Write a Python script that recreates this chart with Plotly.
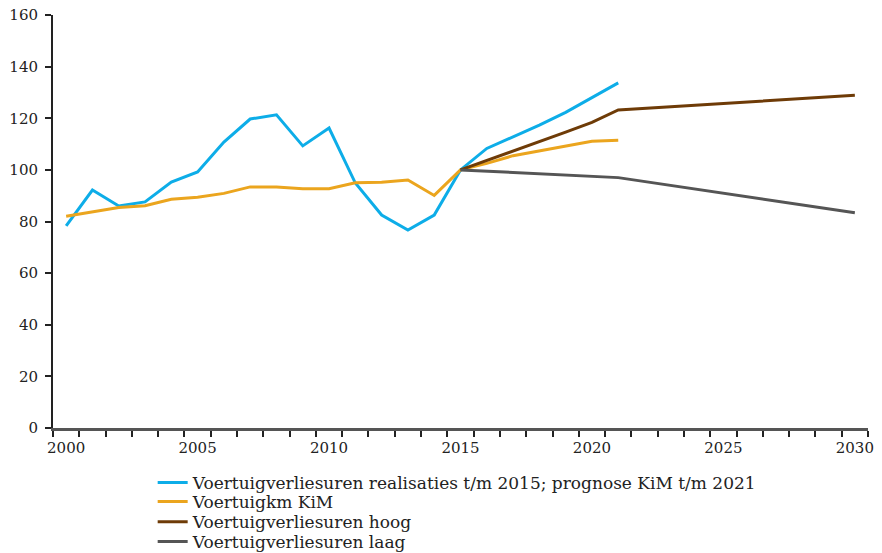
import plotly.graph_objects as go

years_hist = list(range(2000, 2022))
blue_vals = [78.3, 92.2, 86.0, 87.6, 95.3, 99.2, 110.8, 119.7, 121.3, 109.3, 116.2,
             94.9, 82.5, 76.7, 82.5, 100.0, 108.3, 112.7, 117.3, 122.3, 127.9, 133.7]
yellow_vals = [82.0, 83.7, 85.4, 86.1, 88.6, 89.4, 90.9, 93.4, 93.4, 92.7, 92.7,
               95.0, 95.2, 96.1, 90.1, 100.0, 102.5, 105.5, 107.3, 109.3, 111.1, 111.5]
hoog_years = [2015, 2016, 2017, 2018, 2019, 2020, 2021, 2030]
hoog_vals = [100.0, 103.6, 107.2, 110.9, 114.6, 118.4, 123.2, 128.9]
laag_years = [2015, 2021, 2030]
laag_vals = [100.0, 97.0, 83.4]

names = ["Voertuigverliesuren realisaties t/m 2015; prognose KiM t/m 2021",
         "Voertuigkm KiM",
         "Voertuigverliesuren hoog",
         "Voertuigverliesuren laag"]
colors = ["#0DADE8", "#EBA51E", "#6E3B07", "#555555"]

x_ticks = [2000, 2005, 2010, 2015, 2020, 2025, 2030]
y_ticks = [0, 20, 40, 60, 80, 100, 120, 140, 160]

font = "DejaVu Serif"
legend_ids = ["legend", "legend2", "legend3", "legend4"]
legend_y = [-0.133, -0.179, -0.228, -0.276]

fig = go.Figure()
series = [(years_hist, blue_vals), (years_hist, yellow_vals),
          (hoog_years, hoog_vals), (laag_years, laag_vals)]
for (xs, ys), n, c, lid in zip(series, names, colors, legend_ids):
    fig.add_trace(go.Scatter(x=xs, y=ys, mode="lines", name=n, legend=lid,
                             line=dict(color=c, width=3)))

legend_layout = {}
for lid, ly in zip(legend_ids, legend_y):
    legend_layout[lid] = dict(x=0.1223, xanchor="left", y=ly, yanchor="middle",
                              font=dict(family=font, size=17, color="#222222"),
                              itemwidth=30, bgcolor="rgba(0,0,0,0)")

fig.update_layout(
    width=882, height=553,
    margin=dict(l=53, r=14, t=15, b=125, autoexpand=False),
    plot_bgcolor="white", paper_bgcolor="white",
    font=dict(family=font, size=15, color="#222222"),
    showlegend=True,
    xaxis=dict(range=[1999.5, 2030.5], tickmode="array", tickvals=x_ticks,
               ticktext=[str(v) for v in x_ticks], ticks="", automargin=False,
               ticklabelstandoff=4, ticklabeloverflow="allow",
               showgrid=False, zeroline=False, showline=True,
               linecolor="#555555", linewidth=3,
               minor=dict(ticks="outside", tick0=1999.5, dtick=1,
                          ticklen=6, tickcolor="#222222", tickwidth=2, showgrid=False),
               tickfont=dict(family=font, size=15, color="#222222")),
    yaxis=dict(range=[0, 160], tickmode="array", tickvals=y_ticks, ticks="outside",
               ticklen=6, tickwidth=2, tickcolor="#222222", automargin=False,
               ticklabelstandoff=4, ticklabeloverflow="allow",
               showgrid=False, zeroline=False, showline=True,
               linecolor="#222222", linewidth=2,
               tickfont=dict(family=font, size=15, color="#222222")),
    **legend_layout,
)

fig.write_html("out.html",
               config={"displayModeBar": False},
               post_script="document.body.style.margin='0';document.body.style.overflow='hidden';")
